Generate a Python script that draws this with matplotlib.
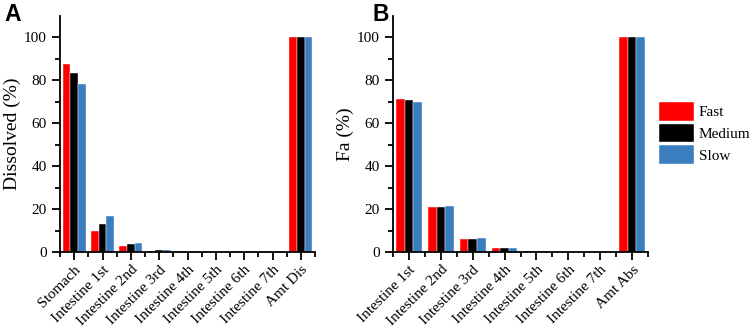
import matplotlib
matplotlib.use("Agg")
import matplotlib.pyplot as plt
import matplotlib.transforms as mtransforms
import numpy as np
from matplotlib.ticker import FixedLocator

cats_a = ["Stomach", "Intestine 1st", "Intestine 2nd", "Intestine 3rd", "Intestine 4th",
          "Intestine 5th", "Intestine 6th", "Intestine 7th", "Amt Dis"]
fast_a = [87.6, 10.0, 2.8, 0.5, 0.1, 0.05, 0.03, 0.02, 100]
medium_a = [83.4, 12.9, 3.6, 0.7, 0.1, 0.05, 0.03, 0.02, 100]
slow_a = [78.4, 16.8, 4.3, 0.9, 0.15, 0.05, 0.03, 0.02, 100]

cats_b = ["Intestine 1st", "Intestine 2nd", "Intestine 3rd", "Intestine 4th",
          "Intestine 5th", "Intestine 6th", "Intestine 7th", "Amt Abs"]
fast_b = [71.5, 20.9, 6.1, 1.8, 0.5, 0.1, 0.05, 100]
medium_b = [70.9, 21.2, 6.2, 1.8, 0.5, 0.1, 0.05, 100]
slow_b = [69.9, 21.6, 6.5, 1.9, 0.5, 0.1, 0.05, 100]

series_names = ["Fast", "Medium", "Slow"]
colors = ["#FF0000", "#000000", "#3A7EC0"]

plt.rcParams["font.family"] = ["Liberation Serif", "DejaVu Serif"]

fig = plt.figure(figsize=(7.54, 3.35), dpi=100)
axA = fig.add_axes([60/754, 1-252/335, 255/754, 236/335])
axB = fig.add_axes([393/754, 1-252/335, 255/754, 236/335])

def draw(ax, cats, data, ylabel):
    n = len(cats)
    x = np.arange(n)
    w = 0.27
    bars = []
    for i, (vals, c) in enumerate(zip(data, colors)):
        b = ax.bar(x + (i - 1) * w, vals, width=w, color=c, edgecolor="white", linewidth=0.3)
        bars.append(b)
    ax.set_xlim(-0.5, n - 0.5)
    ax.set_ylim(0, 110)
    ax.spines["top"].set_visible(False)
    ax.spines["right"].set_visible(False)
    ax.set_xticks(x)
    ax.set_xticklabels(cats, rotation=45, ha="right", rotation_mode="anchor", fontsize=11)
    offset = mtransforms.ScaledTranslation(5/100, -7/100, fig.dpi_scale_trans)
    for lbl in ax.get_xticklabels():
        lbl.set_transform(lbl.get_transform() + offset)
    ax.xaxis.set_minor_locator(FixedLocator(np.arange(n + 1) - 0.5))
    ax.set_yticks([0, 20, 40, 60, 80, 100])
    ax.yaxis.set_minor_locator(FixedLocator([10, 30, 50, 70, 90]))
    ax.tick_params(axis="both", which="major", direction="out", length=6, width=1.3, labelsize=11)
    ax.tick_params(axis="both", which="minor", direction="out", length=3.5, width=1.3)
    ax.tick_params(axis="x", which="major", pad=2)
    for s in ["left", "bottom"]:
        ax.spines[s].set_linewidth(1.3)
    ax.set_ylabel(ylabel, fontsize=14, labelpad=2)
    return bars

draw(axA, cats_a, [fast_a, medium_a, slow_a], "Dissolved (%)")
bars = draw(axB, cats_b, [fast_b, medium_b, slow_b], "Fa (%)")

fig.legend(bars, series_names, loc="upper left", bbox_to_anchor=(656/754, 1-99/335),
           frameon=False, fontsize=11, handlelength=2.3, handleheight=1.5,
           handletextpad=0.3, labelspacing=0.2, borderaxespad=0, borderpad=0.2)

fig.text(4/754, 1-3/335, "A", fontsize=16.5, fontweight="bold", family="Liberation Sans", va="top")
fig.text(373/754, 1-3/335, "B", fontsize=16.5, fontweight="bold", family="Liberation Sans", va="top")

fig.savefig("out.png", dpi=100)
